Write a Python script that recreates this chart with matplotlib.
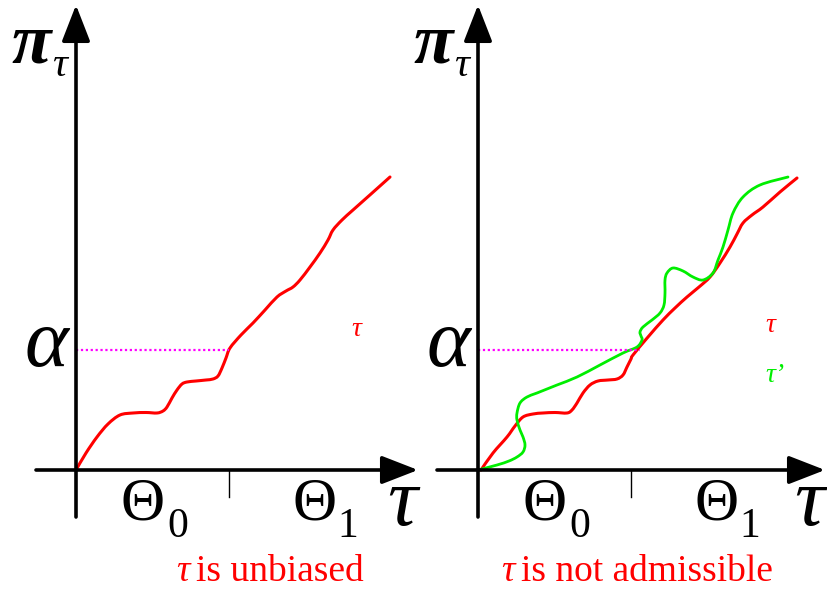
import matplotlib
matplotlib.use("Agg")
import matplotlib.pyplot as plt
import numpy as np
from matplotlib.path import Path
from matplotlib.patches import PathPatch

# schematic power curves pi_tau(tau); tau and pi in units of 100 px from the origin
tau_left = [0.00, 0.10, 0.21, 0.32, 0.44, 0.57, 0.70, 0.81, 0.87, 0.91, 0.96, 1.01, 1.06,
            1.11, 1.20, 1.30, 1.37, 1.42, 1.46, 1.50, 1.54, 1.65, 1.77, 1.89, 2.01,
            2.10, 2.17, 2.24, 2.34, 2.44, 2.52, 2.57, 2.66, 2.77, 2.95, 3.14]
pi_left = [0.00, 0.17, 0.33, 0.46, 0.55, 0.57, 0.575, 0.57, 0.59, 0.63, 0.72, 0.80, 0.86,
           0.88, 0.89, 0.90, 0.91, 0.94, 1.02, 1.12, 1.22, 1.35, 1.47, 1.60, 1.73,
           1.79, 1.83, 1.90, 2.03, 2.17, 2.30, 2.40, 2.50, 2.60, 2.76, 2.93]

tau_red = [0.03, 0.15, 0.29, 0.37, 0.45, 0.55, 0.65, 0.77, 0.89, 0.94, 0.99, 1.05, 1.12,
           1.20, 1.30, 1.39, 1.45, 1.49, 1.53, 1.55, 1.70, 1.85, 1.97, 2.09, 2.21,
           2.32, 2.42, 2.52, 2.59, 2.65, 2.74, 2.85, 3.02, 3.19]
pi_red = [0.00, 0.17, 0.33, 0.44, 0.53, 0.56, 0.57, 0.575, 0.57, 0.60, 0.67, 0.77, 0.85,
          0.89, 0.90, 0.91, 0.95, 1.03, 1.11, 1.15, 1.33, 1.50, 1.62, 1.73, 1.83,
          1.93, 2.07, 2.23, 2.36, 2.47, 2.55, 2.63, 2.78, 2.92]

tau_green = [0.00, 0.19, 0.31, 0.39, 0.45, 0.47, 0.45, 0.42, 0.39, 0.39, 0.42, 0.49, 0.59,
             0.79, 0.99, 1.22, 1.45, 1.59, 1.64, 1.63, 1.62, 1.65, 1.74, 1.82, 1.86,
             1.87, 1.87, 1.89, 1.95, 2.05, 2.15, 2.25, 2.35, 2.40, 2.45, 2.50, 2.55,
             2.65, 2.82, 3.10]
pi_green = [0.00, 0.05, 0.09, 0.13, 0.18, 0.25, 0.33, 0.40, 0.50, 0.57, 0.67, 0.73, 0.77,
            0.85, 0.93, 1.05, 1.17, 1.23, 1.30, 1.34, 1.38, 1.43, 1.50, 1.57, 1.65,
            1.77, 1.90, 1.97, 2.02, 1.99, 1.93, 1.90, 1.97, 2.10, 2.23, 2.40, 2.57,
            2.73, 2.85, 2.93]

alpha_level = 1.20
theta_split = 1.53
theta_names = ["Θ", "Θ"]
theta_subs = ["0", "1"]
captions = ["is unbiased", "is not admissible"]


def smooth_curve(ax, xs, ys, **kw):
    # catmull-rom through the read points, drawn as cubic bezier path
    p = np.column_stack([xs, ys])
    p = np.vstack([p[0], p, p[-1]])
    verts = [p[1]]
    codes = [Path.MOVETO]
    for k in range(1, len(p) - 2):
        c1 = p[k] + (p[k + 1] - p[k - 1]) / 6
        c2 = p[k + 1] - (p[k + 2] - p[k]) / 6
        verts += [c1, c2, p[k + 1]]
        codes += [Path.CURVE4] * 3
    ax.add_patch(PathPatch(Path(verts, codes), fill=False, capstyle="round",
                           joinstyle="round", **kw))


fig = plt.figure(figsize=(8.27, 5.91), dpi=100)
W, H = 827.0, 591.0
origins = [(76, 470), (478, 470)]
spans = [(0, 413.5), (413.5, 827)]
axes = []
for (ox, oy), (x0, x1) in zip(origins, spans):
    ax = fig.add_axes([x0 / W, 0, (x1 - x0) / W, 1])
    ax.set_xlim(-(ox - x0) / 100, (x1 - ox) / 100)
    ax.set_ylim(-(H - oy) / 100, oy / 100)
    ax.axis("off")
    axes.append(ax)

serif = "Liberation Serif"
arrow = dict(arrowstyle="-|>,head_length=0.9,head_width=0.35", lw=2.6, color="black",
             mutation_scale=25, shrinkA=0, shrinkB=0)

for i, ax in enumerate(axes):
    xleft = -0.40 if i == 0 else -0.41
    xright = 3.42 if i == 0 else 3.47
    # axes with arrow heads
    ax.annotate("", xy=(0, 4.65), xytext=(0, -0.47), arrowprops=arrow,
                annotation_clip=False)
    ax.annotate("", xy=(xright, 0), xytext=(xleft, 0), arrowprops=arrow,
                annotation_clip=False)
    ax.plot([theta_split, theta_split], [0, -0.27], color="black", lw=1)
    # labels
    ax.text(-0.45, 4.25, "π", fontsize=52, fontfamily=serif, style="italic",
            fontweight="bold", ha="center", va="center")
    ax.text(-0.16, 4.04, "τ", fontsize=30, fontfamily=serif, style="italic",
            ha="center", va="center")
    ax.text(-0.30, 1.24, "α", fontsize=60, fontfamily=serif, style="italic",
            ha="center", va="center")
    ax.text(xright - 0.16, -0.35, "τ", fontsize=60,
            fontfamily=serif, style="italic", ha="center", va="center")
    ax.text(0.67, -0.35, theta_names[0], fontsize=44, fontfamily=serif,
            ha="center", va="center")
    ax.text(1.02, -0.57, theta_subs[0], fontsize=30, fontfamily=serif,
            ha="center", va="center")
    ax.text(2.39, -0.35, theta_names[1], fontsize=44, fontfamily=serif,
            ha="center", va="center")
    ax.text(2.72, -0.57, theta_subs[1], fontsize=30, fontfamily=serif,
            ha="center", va="center")

ax = axes[0]
ax.plot([0, theta_split], [alpha_level, alpha_level], color="magenta",
        lw=1.6, ls=(0, (1, 1.2)))
smooth_curve(ax, tau_left, pi_left, edgecolor="red", lw=2.2)
ax.text(2.80, 1.40, "τ", fontsize=20, fontfamily=serif, style="italic", color="red",
        ha="center", va="center")
ax.text(1.14, -1.02, "τ", fontsize=27, fontfamily=serif, style="italic", color="red",
        ha="right", va="center")
ax.text(1.20, -1.02, captions[0], fontsize=27, fontfamily=serif, color="red",
        ha="left", va="center")

ax = axes[1]
ax.plot([0, 1.62], [alpha_level, alpha_level], color="magenta", lw=1.6, ls=(0, (1, 1.2)))
smooth_curve(ax, tau_red, pi_red, edgecolor="red", lw=2.2)
smooth_curve(ax, tau_green, pi_green, edgecolor="#00ee00", lw=2.0)
ax.text(2.92, 1.44, "τ", fontsize=20, fontfamily=serif, style="italic", color="red",
        ha="center", va="center")
ax.text(2.97, 0.94, "τ’", fontsize=20, fontfamily=serif, style="italic", color="#00ee00",
        ha="center", va="center")
ax.text(0.37, -1.02, "τ", fontsize=27, fontfamily=serif, style="italic", color="red",
        ha="right", va="center")
ax.text(0.43, -1.02, captions[1], fontsize=27, fontfamily=serif, color="red",
        ha="left", va="center")

fig.savefig("out.png", dpi=100)
